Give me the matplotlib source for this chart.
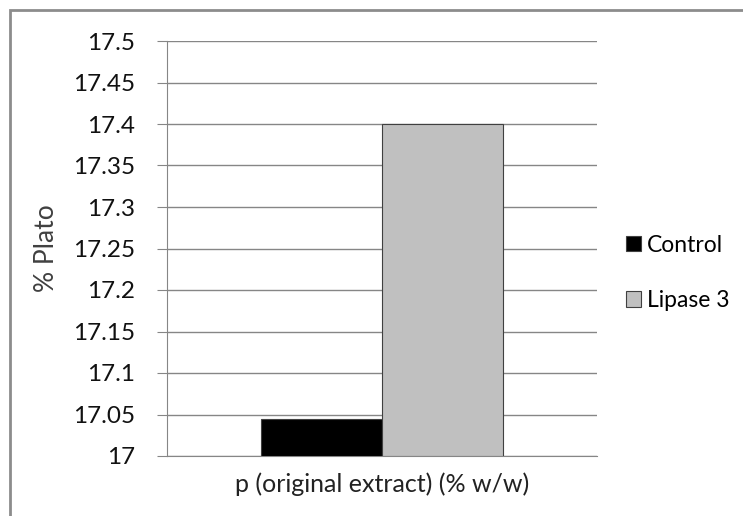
import matplotlib
matplotlib.use('Agg')
import matplotlib.pyplot as plt
from matplotlib.patches import Rectangle

series = ['Control', 'Lipase 3']
values = [17.045, 17.40]
colors = ['#000000', '#C0C0C0']
category = 'p (original extract) (% w/w)'
yticks = [17.0, 17.05, 17.1, 17.15, 17.2, 17.25, 17.3, 17.35, 17.4, 17.45, 17.5]

plt.rcParams['font.family'] = ['Lato', 'DejaVu Sans']

W, H = 743, 516
fig = plt.figure(figsize=(W / 100, H / 100), dpi=100)
ax = fig.add_axes([167 / W, 1 - 456 / H, 430 / W, 415 / H])

# chart area frame
fig.patches.append(Rectangle((10 / W, -0.1), 1.2, 1 - 10 / H + 0.1,
                             transform=fig.transFigure, fill=False,
                             edgecolor='#8c8c8c', linewidth=2))

bar_w = 0.281
offsets = [-bar_w / 2, bar_w / 2]
for name, val, col, off in zip(series, values, colors, offsets):
    ax.bar(off, val - 17.0, bottom=17.0, width=bar_w, color=col,
           edgecolor='#404040', linewidth=0.8, label=name, zorder=3)

ax.set_xlim(-0.5, 0.5)
ax.set_ylim(17.0, 17.5)
ax.set_yticks(yticks)
ax.set_yticklabels([f'{t:g}' for t in yticks], fontsize=17.5, color='#111111')
ax.set_xticks([])
ax.yaxis.grid(True, color='#868686', linewidth=1)
ax.set_axisbelow(True)
for s in ['top', 'right']:
    ax.spines[s].set_visible(False)
ax.spines['left'].set_color('#868686')
ax.spines['bottom'].set_color('#868686')
ax.tick_params(axis='y', length=7, color='#868686', pad=16)

ax.set_ylabel('% Plato', fontsize=19, color='#404040', labelpad=10)
ax.set_xlabel(category, fontsize=18, color='#222222', labelpad=12)

ax.legend(loc='center left', bbox_to_anchor=(626 / W, 1 - 273 / H),
          bbox_transform=fig.transFigure, frameon=False, fontsize=16.5,
          handlelength=0.65, handleheight=0.65, handletextpad=0.25,
          labelspacing=1.5, borderaxespad=0, borderpad=0)

fig.savefig('out.png', dpi=100)
